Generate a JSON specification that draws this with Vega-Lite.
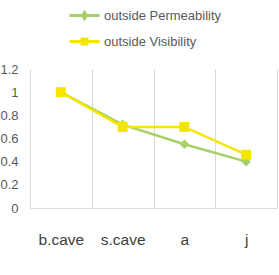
{
  "$schema": "https://vega.github.io/schema/vega-lite/v6.json",
  "autosize": "none",
  "width": 247,
  "height": 139,
  "padding": {"left": 30, "top": 69, "right": 2, "bottom": 67},
  "background": "white",
  "config": {
    "view": {"stroke": null},
    "font": "Liberation Sans",
    "legend": {
      "title": null,
      "orient": "none",
      "legendX": 38,
      "legendY": -70,
      "direction": "vertical",
      "rowPadding": -3,
      "symbolSize": 900,
      "symbolStrokeWidth": 3,
      "labelFontSize": 13,
      "labelColor": "#595959",
      "labelOffset": 3
    }
  },
  "data": {
    "values": [
      {"cat": "b.cave", "series": "outside Permeability", "v": 1.0},
      {"cat": "s.cave", "series": "outside Permeability", "v": 0.72},
      {"cat": "a", "series": "outside Permeability", "v": 0.55},
      {"cat": "j", "series": "outside Permeability", "v": 0.40},
      {"cat": "b.cave", "series": "outside Visibility", "v": 1.0},
      {"cat": "s.cave", "series": "outside Visibility", "v": 0.70},
      {"cat": "a", "series": "outside Visibility", "v": 0.70},
      {"cat": "j", "series": "outside Visibility", "v": 0.46}
    ]
  },
  "encoding": {
    "x": {
      "field": "cat",
      "type": "nominal",
      "sort": ["b.cave", "s.cave", "a", "j"],
      "bandPosition": 0.5,
      "scale": {"type": "band", "paddingInner": 0, "paddingOuter": 0},
      "axis": {
        "title": null,
        "labelAngle": 0,
        "tickBand": "extent",
        "grid": true,
        "gridColor": "#d9d9d9",
        "gridWidth": 1,
        "ticks": false,
        "domainColor": "#d9d9d9",
        "labelFontSize": 15.5,
        "labelColor": "#404040",
        "labelPadding": 24
      }
    },
    "y": {
      "field": "v",
      "type": "quantitative",
      "scale": {"domain": [0, 1.2], "nice": false},
      "axis": {
        "title": null,
        "values": [0, 0.2, 0.4, 0.6, 0.8, 1, 1.2],
        "format": "~g",
        "grid": false,
        "domain": false,
        "ticks": false,
        "labelFontSize": 13,
        "labelColor": "#595959",
        "labelPadding": 12
      }
    },
    "color": {
      "field": "series",
      "type": "nominal",
      "scale": {"domain": ["outside Permeability", "outside Visibility"], "range": ["#a9d066", "#f5e600"]},
      "legend": {
        "encode": {
          "symbols": {
            "update": {
              "shape": {"signal": "datum.value == 'outside Permeability' ? 'M-1,0H1M-0.13,0L0,-0.2L0.13,0L0,0.2Z' : 'M-1,0H1M-0.16,-0.16H0.16V0.16H-0.16Z'"},
              "stroke": {"signal": "datum.value == 'outside Permeability' ? '#a9d066' : '#f5e600'"},
              "fill": {"signal": "datum.value == 'outside Permeability' ? '#a9d066' : '#f5e600'"},
              "strokeWidth": {"value": 3},
              "opacity": {"value": 1}
            }
          }
        }
      }
    }
  },
  "layer": [
    {
      "mark": {"type": "line", "strokeWidth": 2.5},
      "encoding": {"order": {"field": "series"}}
    },
    {
      "transform": [{"filter": "datum.series == 'outside Permeability'"}],
      "mark": {"type": "point", "filled": true, "opacity": 1, "size": 90, "shape": "diamond"}
    },
    {
      "transform": [{"filter": "datum.series == 'outside Visibility'"}],
      "mark": {"type": "point", "filled": true, "opacity": 1, "size": 100, "shape": "square"}
    }
  ]
}
